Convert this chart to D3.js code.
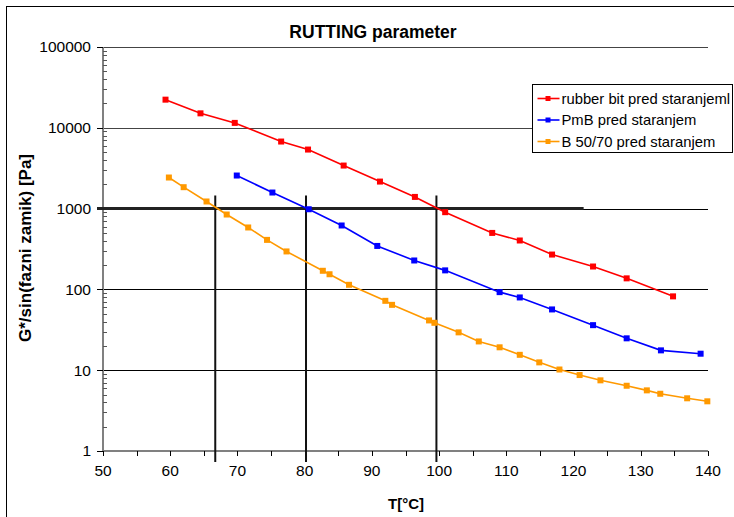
<!DOCTYPE html>
<html>
<head>
<meta charset="utf-8">
<title>RUTTING parameter</title>
<script src="https://d3js.org/d3.v7.min.js"></script>
<style>
  body { margin: 0; background: #fff; }
  text { font-family: "Liberation Sans", Arial, sans-serif; }
</style>
</head>
<body>
<script>
// series data: temperature [°C] and G*/sin(delta) [Pa]
const rubberT = [59.3, 64.5, 69.6, 76.5, 80.5, 85.8, 91.2, 96.4, 100.9, 107.9, 112.0, 116.8, 122.9, 127.9, 134.8];
const rubberG = [22300, 15100, 11500, 6760, 5380, 3410, 2160, 1395, 903, 500, 403, 270, 192, 137, 82];

const pmbT = [69.9, 75.2, 80.6, 85.5, 90.8, 96.3, 100.9, 109.0, 112.0, 116.8, 122.9, 127.9, 133.0, 138.9];
const pmbG = [2566, 1581, 982, 618, 345, 228, 172, 92.5, 79.5, 56.5, 36.1, 24.8, 17.6, 16.0];

const bitT = [59.8, 62.0, 65.4, 68.4, 71.6, 74.4, 77.3, 82.7, 83.7, 86.6, 92.0, 93.0, 98.5, 99.3, 102.9,
  105.9, 109.0, 112.0, 114.9, 117.9, 120.9, 124.0, 127.9, 130.9, 132.9, 136.9, 139.9];
const bitG = [2425, 1841, 1225, 845, 584, 410, 295, 170, 154, 114, 72.2, 64.4, 41.3, 38.6, 29.4,
  22.7, 19.2, 15.5, 12.5, 10.2, 8.71, 7.49, 6.42, 5.63, 5.11, 4.49, 4.12];

const seriesNames = ['rubber bit pred staranjeml', 'PmB pred staranjem', 'B 50/70 pred staranjem'];
const seriesColors = ['#ff0000', '#0000ff', '#ff9900'];

const xTicks = [50, 60, 70, 80, 90, 100, 110, 120, 130, 140];
const yTicks = [1, 10, 100, 1000, 10000, 100000];

// 1000 Pa criterion and the temperatures where each curve crosses it
const threshold = 1000;
const thresholdEndT = 121.5;
const crossT = [66.7, 80.2, 99.6];

const W = 734, H = 517;
const margin = { left: 103, right: 26, top: 47, bottom: 66 };

const svg = d3.select('body').append('svg')
  .attr('width', W)
  .attr('height', H);

// outer chart border (only left and top visible)
svg.append('rect')
  .attr('x', 6.5).attr('y', 6.5)
  .attr('width', 760).attr('height', 540)
  .attr('fill', 'none').attr('stroke', '#000').attr('stroke-width', 1);

const x = d3.scaleLinear().domain([50, 140]).range([margin.left, W - margin.right]);
const y = d3.scaleLog().domain([1, 100000]).range([H - margin.bottom, margin.top]);

const x0 = x(50), x1 = x(140), yb = y(1);

// horizontal grid lines
svg.append('g').selectAll('line')
  .data(yTicks.slice(1))
  .enter().append('line')
  .attr('x1', x0 - 6).attr('x2', x1)
  .attr('y1', d => Math.round(y(d)) + 0.5)
  .attr('y2', d => Math.round(y(d)) + 0.5)
  .attr('stroke', d => d >= 10000 ? '#444' : '#000')
  .attr('stroke-width', 1);

// y axis
const yAxis = svg.append('g');
yAxis.append('line')
  .attr('x1', x0).attr('x2', x0)
  .attr('y1', y(100000)).attr('y2', yb)
  .attr('stroke', '#808080').attr('stroke-width', 2);

yAxis.selectAll('.major')
  .data(yTicks)
  .enter().append('line')
  .attr('x1', x0 - 6).attr('x2', x0)
  .attr('y1', d => Math.round(y(d)) + 0.5)
  .attr('y2', d => Math.round(y(d)) + 0.5)
  .attr('stroke', '#000');

const minor = [];
yTicks.slice(0, -1).forEach(d => {
  for (let k = 2; k <= 9; k++) minor.push(d * k);
});
yAxis.selectAll('.minor')
  .data(minor)
  .enter().append('line')
  .attr('x1', x0).attr('x2', x0 + 4)
  .attr('y1', d => Math.round(y(d)) + 0.5)
  .attr('y2', d => Math.round(y(d)) + 0.5)
  .attr('stroke', '#555');

yAxis.selectAll('text')
  .data(yTicks)
  .enter().append('text')
  .attr('x', x0 - 12)
  .attr('y', d => y(d))
  .attr('dy', '0.35em')
  .attr('text-anchor', 'end')
  .attr('font-size', 15.5)
  .text(d => d);

// x axis
const xAxis = svg.append('g');
xAxis.append('line')
  .attr('x1', x0).attr('x2', x1)
  .attr('y1', yb).attr('y2', yb)
  .attr('stroke', '#808080').attr('stroke-width', 2);

const xMinor = d3.range(50, 141, 5);
xAxis.selectAll('.tick')
  .data(xMinor)
  .enter().append('line')
  .attr('x1', d => Math.round(x(d)) + 0.5)
  .attr('x2', d => Math.round(x(d)) + 0.5)
  .attr('y1', yb).attr('y2', yb + 5)
  .attr('stroke', '#000');

xAxis.selectAll('text')
  .data(xTicks)
  .enter().append('text')
  .attr('x', d => x(d))
  .attr('y', yb + 25)
  .attr('text-anchor', 'middle')
  .attr('font-size', 15.5)
  .text(d => d);

// threshold line at 1000 Pa and crossing verticals
svg.append('line')
  .attr('x1', x0 - 6).attr('x2', x(thresholdEndT))
  .attr('y1', y(threshold)).attr('y2', y(threshold))
  .attr('stroke', '#222').attr('stroke-width', 3);

svg.append('g').selectAll('line')
  .data(crossT)
  .enter().append('line')
  .attr('x1', d => x(d)).attr('x2', d => x(d))
  .attr('y1', y(threshold) - 13).attr('y2', yb + 11)
  .attr('stroke', '#111').attr('stroke-width', 2);

// series
const series = [
  { t: rubberT, g: rubberG },
  { t: pmbT, g: pmbG },
  { t: bitT, g: bitG }
];

const line = d3.line().x(d => x(d[0])).y(d => y(d[1]));

series.forEach((s, i) => {
  const pts = s.t.map((t, j) => [t, s.g[j]]);
  const grp = svg.append('g');
  grp.append('path')
    .datum(pts)
    .attr('d', line)
    .attr('fill', 'none')
    .attr('stroke', seriesColors[i])
    .attr('stroke-width', 1.6);
  grp.selectAll('rect')
    .data(pts)
    .enter().append('rect')
    .attr('x', d => x(d[0]) - 3)
    .attr('y', d => y(d[1]) - 3)
    .attr('width', 6).attr('height', 6)
    .attr('fill', seriesColors[i]);
});

// legend
const legend = svg.append('g').attr('transform', 'translate(532.5,84.5)');
legend.append('rect')
  .attr('width', 200).attr('height', 68)
  .attr('fill', '#fff').attr('stroke', '#000');

const items = legend.selectAll('.item')
  .data(seriesNames)
  .enter().append('g')
  .attr('transform', (d, i) => 'translate(0,' + (14 + i * 21.5) + ')');
items.append('line')
  .attr('x1', 5).attr('x2', 27)
  .attr('stroke', (d, i) => seriesColors[i]).attr('stroke-width', 1.6);
items.append('rect')
  .attr('x', 13).attr('y', -2.5).attr('width', 5).attr('height', 5)
  .attr('fill', (d, i) => seriesColors[i]);
items.append('text')
  .attr('x', 29).attr('dy', '0.35em')
  .attr('font-size', 14.8)
  .text(d => d);

// titles
svg.append('text')
  .attr('x', 373).attr('y', 38)
  .attr('text-anchor', 'middle')
  .attr('font-size', 17.5).attr('font-weight', 'bold')
  .text('RUTTING parameter');

svg.append('text')
  .attr('x', 406).attr('y', 509)
  .attr('text-anchor', 'middle')
  .attr('font-size', 15).attr('font-weight', 'bold')
  .text('T[°C]');

svg.append('text')
  .attr('transform', 'translate(31,248) rotate(-90)')
  .attr('text-anchor', 'middle')
  .attr('font-size', 17).attr('font-weight', 'bold')
  .text('G*/sin(fazni zamik) [Pa]');
</script>
</body>
</html>
